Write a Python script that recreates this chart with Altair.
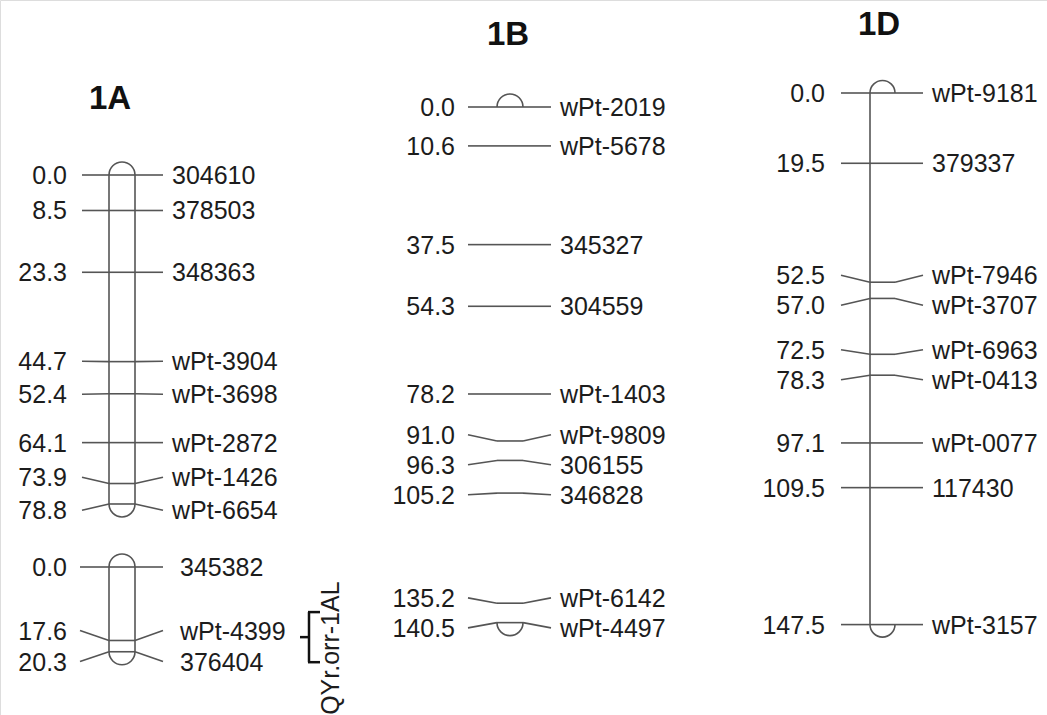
import altair as alt
import pandas as pd

# ---------------- data ----------------
A1_cm = [0.0, 8.5, 23.3, 44.7, 52.4, 64.1, 73.9, 78.8]
A1_markers = ["304610", "378503", "348363", "wPt-3904", "wPt-3698", "wPt-2872", "wPt-1426", "wPt-6654"]

A2_cm = [0.0, 17.6, 20.3]
A2_markers = ["345382", "wPt-4399", "376404"]

B_cm = [0.0, 10.6, 37.5, 54.3, 78.2, 91.0, 96.3, 105.2, 135.2, 140.5]
B_markers = ["wPt-2019", "wPt-5678", "345327", "304559", "wPt-1403", "wPt-9809",
             "306155", "346828", "wPt-6142", "wPt-4497"]

D_cm = [0.0, 19.5, 52.5, 57.0, 72.5, 78.3, 97.1, 109.5, 147.5]
D_markers = ["wPt-9181", "379337", "wPt-7946", "wPt-3707", "wPt-6963", "wPt-0413",
             "wPt-0077", "117430", "wPt-3157"]

QTL_name = ["QYr.orr-1AL"]
QTL_start = [10.8]
QTL_end = [22.8]

group_titles = ["1A", "1B", "1D"]

# ---------------- style ----------------
FONT = "Liberation Sans"
LINE = "#555555"
TXT = "#1c1c1c"
FS = 25
SW = 1.6
TOP_CAP = "M -1 0 A 1 1 0 0 1 1 0"
BOT_CAP = "M -1 0 A 1 1 0 0 0 1 0"


def spread(pos, gap):
    clusters = [[p] for p in pos]

    def place(c):
        m = sum(c) / len(c)
        s = m - gap * (len(c) - 1) / 2
        return [s + i * gap for i in range(len(c))]

    changed = True
    while changed:
        changed = False
        for i in range(len(clusters) - 1):
            a = place(clusters[i])
            b = place(clusters[i + 1])
            if b[0] - a[-1] < gap - 1e-9:
                clusters[i] = clusters[i] + clusters[i + 1]
                del clusters[i + 1]
                changed = True
                break
    out = []
    for c in clusters:
        out += place(c)
    return out


def linkage_group(cm, markers, y0, k, lt, lc, cl, cr, rc, rt, gap_px, sides):
    L = max(cm)
    ysc = alt.Scale(domain=[0, L], range=[y0, y0 + L * k])

    def Y(f):
        return alt.Y(f, type="quantitative", scale=ysc, axis=None)

    df = pd.DataFrame({
        "cM": cm,
        "marker": markers,
        "lab": spread(cm, gap_px / k),
        "txt": [f"{p:.1f}" for p in cm],
    })
    base = alt.Chart(df)
    ends = alt.Chart(pd.DataFrame({"a": [min(cm)], "b": [max(cm)]}))
    cx = (cl + cr) / 2
    size = (cr - cl) ** 2
    layers = []
    if sides in ("both", "left"):
        layers.append(ends.mark_rule(color=LINE, strokeWidth=SW).encode(
            x=alt.value(cl), y=Y("a"), y2=alt.Y2("b")))
    if sides == "both":
        layers.append(ends.mark_rule(color=LINE, strokeWidth=SW).encode(
            x=alt.value(cr), y=Y("a"), y2=alt.Y2("b")))
    layers.append(ends.mark_point(shape=TOP_CAP, size=size, filled=False, stroke=LINE,
                                  strokeWidth=SW, opacity=1).encode(x=alt.value(cx), y=Y("a")))
    layers.append(ends.mark_point(shape=BOT_CAP, size=size, filled=False, stroke=LINE,
                                  strokeWidth=SW, opacity=1).encode(x=alt.value(cx), y=Y("b")))
    layers.append(base.mark_rule(color=LINE, strokeWidth=SW).encode(
        x=alt.value(cl), x2=alt.value(cr), y=Y("cM")))
    layers.append(base.mark_rule(color=LINE, strokeWidth=SW).encode(
        x=alt.value(lc), x2=alt.value(cl), y=Y("lab"), y2=alt.Y2("cM")))
    layers.append(base.mark_rule(color=LINE, strokeWidth=SW).encode(
        x=alt.value(cr), x2=alt.value(rc), y=Y("cM"), y2=alt.Y2("lab")))
    layers.append(base.mark_text(align="right", baseline="middle", font=FONT, fontSize=FS,
                                 color=TXT, dy=1).encode(
        x=alt.value(lt), y=Y("lab"), text="txt:N"))
    layers.append(base.mark_text(align="left", baseline="middle", font=FONT, fontSize=FS,
                                 color=TXT, dy=1).encode(
        x=alt.value(rt), y=Y("lab"), text="marker:N"))
    return layers, ysc


layers = []

lA1, _ = linkage_group(A1_cm, A1_markers, 175, 4.175, 67, 82, 109, 135, 163, 172, 33, "both")
lA2, ysA2 = linkage_group(A2_cm, A2_markers, 567, 4.175, 67, 80, 109, 135, 163, 180, 31, "both")
lB, _ = linkage_group(B_cm, B_markers, 107, 3.67, 455, 468, 497, 523, 551, 560, 30, "none")
lD, _ = linkage_group(D_cm, D_markers, 93, 3.604, 825, 841, 870, 895, 923, 932, 30, "left")
layers += lA1 + lA2 + lB + lD

# QTL bracket on 1A (second group)
qdf = pd.DataFrame({"name": QTL_name, "start": QTL_start, "end": QTL_end})
q = alt.Chart(qdf).transform_calculate(mid="(datum.start + datum.end) / 2")


def QY(f):
    return alt.Y(f, type="quantitative", scale=ysA2, axis=None)


QC = "#111111"
layers.append(q.mark_rule(color=QC, strokeWidth=2.5).encode(
    x=alt.value(309), y=QY("start"), y2=alt.Y2("end")))
layers.append(q.mark_rule(color=QC, strokeWidth=2.5).encode(
    x=alt.value(308), x2=alt.value(320), y=QY("start")))
layers.append(q.mark_rule(color=QC, strokeWidth=2.5).encode(
    x=alt.value(308), x2=alt.value(320), y=QY("end")))
layers.append(q.mark_rule(color=QC, strokeWidth=2.5).encode(
    x=alt.value(300), x2=alt.value(309), y=QY("mid:Q")))
layers.append(q.mark_text(angle=270, align="center", baseline="middle", font=FONT,
                          fontSize=25, color=TXT, dx=-11).encode(
    x=alt.value(331), y=QY("mid:Q"), text="name:N"))

# titles
tdf = pd.DataFrame({"t": group_titles})
title_pos = [(110, 99), (508, 35), (879, 25)]
for i, (tx, ty) in enumerate(title_pos):
    layers.append(alt.Chart(tdf).transform_filter(f"datum.t == '{group_titles[i]}'").mark_text(
        align="center", baseline="middle", font=FONT, fontSize=33, fontWeight="bold",
        color="#111111").encode(x=alt.value(tx), y=alt.value(ty), text="t:N"))

chart = alt.layer(*layers).resolve_scale(y="independent").properties(
    width=1047, height=715, padding=0,
    autosize=alt.AutoSizeParams(type="none"),
).configure_view(stroke=None).configure(background="white")

chart.save("out.html", embed_options={"renderer": "svg", "actions": False})
